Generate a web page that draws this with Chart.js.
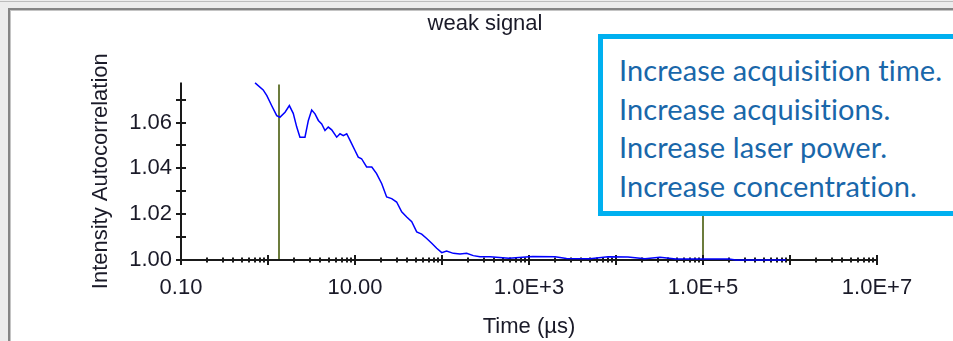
<!DOCTYPE html>
<html>
<head>
<meta charset="utf-8">
<script src="https://cdn.jsdelivr.net/npm/chart.js@4"></script>
<style>
  html, body { margin: 0; padding: 0; }
  body { width: 953px; height: 341px; overflow: hidden; background: #ececec; position: relative; }
  #topline { position: absolute; left: 0; top: 1px; width: 100%; height: 1px; background: #bcbcbc; }
  #panel { position: absolute; left: 8px; top: 8px; width: 980px; height: 360px; background: #fff;
           border-top: 2px solid #858585; border-left: 2px solid #858585; box-shadow: inset 1px 1px 0 #c4c4c4; }
  #chart { position: absolute; left: 0; top: 0; }
  #note { position: absolute; left: 598px; top: 34px; width: 420px; height: 182px; box-sizing: border-box;
          border: 5px solid #00b0f0; background: #fff; padding: 12px 0 0 16px;
          font-family: Lato, "Open Sans", sans-serif; font-size: 29px; line-height: 38.7px; color: #1967aa;
          font-variant-ligatures: none; letter-spacing: 0.1px; }
</style>
</head>
<body>
<div id="topline"></div>
<div id="panel"></div>
<canvas id="chart" width="953" height="341"></canvas>
<div id="note">Increase acquisition time.<br>Increase acquisitions.<br>Increase laser power.<br>Increase concentration.</div>
<script>
// correlogram (time in µs)
const timeUs = [0.71, 0.88, 0.97, 1.10, 1.26, 1.37, 1.57, 1.76, 1.95, 2.14, 2.33, 2.66, 2.91, 3.18, 3.47,
  3.79, 4.14, 4.52, 4.93, 5.40, 6.16, 6.73, 7.34, 8.03, 8.77, 10.0, 10.9, 11.9, 13.6, 15.6, 17.7, 20.3,
  23.1, 26.4, 30.1, 34.4, 39.3, 44.9, 51.2, 58.4, 66.7, 76.2, 86.9, 99.3, 113, 135, 161, 192, 229, 273,
  356, 589, 1100, 1990, 2700, 5020, 8090, 13700, 21500, 32000, 48900, 199000, 239000, 898000];
const autocorr = [1.0773, 1.0742, 1.0717, 1.0674, 1.0630, 1.0623, 1.0645, 1.0674, 1.0640, 1.0580, 1.0536,
  1.0536, 1.0609, 1.0655, 1.0638, 1.0609, 1.0594, 1.0565, 1.0580, 1.0568, 1.0536, 1.0551, 1.0543, 1.0551,
  1.0522, 1.0478, 1.0449, 1.0442, 1.0406, 1.0406, 1.0377, 1.0333, 1.0275, 1.0268, 1.0253, 1.0210, 1.0188,
  1.0167, 1.0123, 1.0113, 1.0094, 1.0073, 1.0051, 1.0032, 1.0039, 1.0029, 1.0026, 1.0029, 1.0019, 1.0014,
  1.0014, 1.0008, 1.0015, 1.0014, 1.0007, 1.0005, 1.0014, 1.0013, 1.0005, 1.0012, 1.0004, 1.0004, 1.0000, 1.0000];

// cursor lines
const markerTimes = [1.35, 1e5];

// axes
const yTickValues = [1.00, 1.01, 1.02, 1.03, 1.04, 1.05, 1.06, 1.07];
const yLabelValues = [1.00, 1.02, 1.04, 1.06];
const xDecades = [0.1, 1, 10, 100, 1e3, 1e4, 1e5, 1e6, 1e7];
const xMinorSteps = [2, 3, 4, 5, 6, 7, 8, 9];
const xLabelValues = [0.1, 10, 1e3, 1e5, 1e7];

const TEXT_COLOR = '#1a1a28';
const AXIS_FONT = { family: '"Liberation Sans", Arial, sans-serif', size: 22 };

function fmtTime(v) {
  if (v < 1000) return v.toFixed(2);
  return '1.0E+' + Math.round(Math.log10(v));
}

const axesPlugin = {
  id: 'axesPlugin',
  beforeDatasetsDraw(chart) {
    const { ctx, chartArea: a, scales: { x, y } } = chart;
    const seg = (x1, y1, x2, y2) => { ctx.beginPath(); ctx.moveTo(x1, y1); ctx.lineTo(x2, y2); ctx.stroke(); };
    ctx.save();
    ctx.lineWidth = 2;
    ctx.strokeStyle = '#6c7c3c';
    markerTimes.forEach(t => {
      const px = Math.round(x.getPixelForValue(t));
      seg(px, a.top + 2, px, a.bottom);
    });
    ctx.strokeStyle = '#1a1a1a';
    seg(a.left, a.top, a.left, a.bottom + 1);
    seg(a.left - 1, a.bottom, a.right, a.bottom);
    yTickValues.forEach(v => {
      const py = Math.round(y.getPixelForValue(v));
      seg(a.left - 5, py, a.left + 5, py);
    });
    xDecades.forEach(d => {
      const px = Math.round(x.getPixelForValue(d));
      seg(px, a.bottom - 5, px, a.bottom + 5);
      if (d < 1e7) {
        xMinorSteps.forEach(m => {
          const mx = Math.round(x.getPixelForValue(d * m));
          seg(mx, a.bottom - 2.5, mx, a.bottom + 2.5);
        });
      }
    });
    ctx.restore();
  }
};

new Chart(document.getElementById('chart'), {
  type: 'line',
  data: {
    datasets: [{
      data: timeUs.map((t, i) => ({ x: t, y: autocorr[i] })),
      borderColor: '#0000ff',
      borderWidth: 1.5,
      pointRadius: 0,
      tension: 0,
      clip: false,
    }],
  },
  options: {
    responsive: false,
    animation: false,
    events: [],
    layout: { padding: { left: 93, top: 11, right: 76, bottom: 0 } },
    plugins: {
      legend: { display: false },
      tooltip: { enabled: false },
      title: {
        display: true,
        text: 'weak signal',
        color: TEXT_COLOR,
        font: { family: AXIS_FONT.family, size: 22, weight: 'normal' },
        padding: { top: 0, bottom: 45 },
      },
    },
    scales: {
      x: {
        type: 'logarithmic',
        min: 0.1,
        max: 1e7,
        grid: { display: false, drawTicks: false },
        border: { display: false },
        afterBuildTicks: s => { s.ticks = xLabelValues.map(v => ({ value: v })); },
        afterFit: s => { s.height = 81; },
        ticks: {
          autoSkip: false,
          maxRotation: 0,
          padding: 15,
          color: TEXT_COLOR,
          font: AXIS_FONT,
          callback: v => fmtTime(v),
        },
        title: { display: true, text: 'Time (µs)', color: TEXT_COLOR, font: AXIS_FONT, padding: { top: 0, bottom: 1 } },
      },
      y: {
        min: 1.0,
        max: 1.0775,
        grid: { display: false, drawTicks: false },
        border: { display: false },
        afterBuildTicks: s => { s.ticks = yLabelValues.map(v => ({ value: v })); },
        afterFit: s => { s.width = 88; },
        ticks: {
          padding: 9,
          color: TEXT_COLOR,
          font: AXIS_FONT,
          callback: v => v.toFixed(2),
        },
        title: { display: true, text: 'Intensity Autocorrelation', color: TEXT_COLOR, font: AXIS_FONT, padding: { top: -5, bottom: 0 } },
      },
    },
  },
  plugins: [axesPlugin],
});
</script>
</body>
</html>
